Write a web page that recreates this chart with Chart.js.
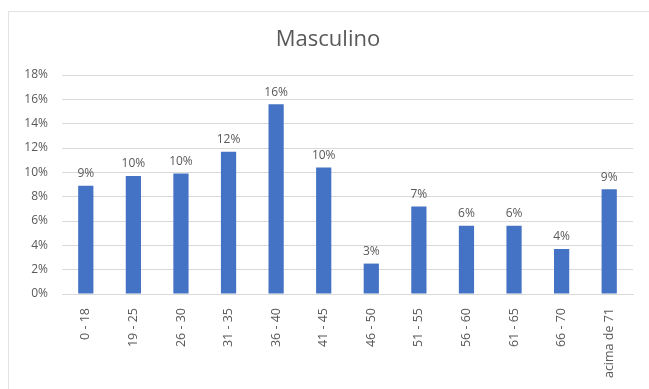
<!DOCTYPE html>
<html>
<head>
<meta charset="utf-8">
<script src="https://cdn.jsdelivr.net/npm/chart.js@4"></script>
<style>
    html, body { margin: 0; padding: 0; background: #fff; }
    #wrap { position: relative; width: 649px; height: 389px; overflow: hidden; }
    #frame { position: absolute; left: 8px; top: 11px; width: 700px; height: 450px; border: 1px solid #e3e3e3; }
    #myChart { position: absolute; left: 0; top: 0; }
</style>
</head>
<body>
<div id="wrap">
    <div id="frame"></div>
    <canvas id="myChart" width="649" height="389"></canvas>
</div>
<script>
    let categories = ["0 - 18", "19 - 25", "26 - 30", "31 - 35", "36 - 40", "41 - 45",
        "46 - 50", "51 - 55", "56 - 60", "61 - 65", "66 - 70", "acima de 71"];
    let masculino = [8.9, 9.7, 9.9, 11.7, 15.6, 10.4, 2.5, 7.2, 5.6, 5.6, 3.7, 8.6];
    let yTicks = [0, 2, 4, 6, 8, 10, 12, 14, 16, 18];
    let chartTitle = 'Masculino';

    let textColor = '#595959';
    let fontFamily = "'Open Sans', 'Liberation Sans', sans-serif";

    // title centred on the frame, not on the canvas minus padding
    let frameTitle = {
        id: 'frameTitle',
        afterDraw(chart) {
            let ctx = chart.ctx;
            ctx.save();
            ctx.fillStyle = textColor;
            ctx.font = '22px ' + fontFamily;
            ctx.textAlign = 'center';
            ctx.textBaseline = 'middle';
            ctx.fillText(chartTitle, 328, 40);
            ctx.restore();
        }
    };

    // draws the % value above each bar
    let valueLabels = {
        id: 'valueLabels',
        afterDatasetsDraw(chart) {
            let ctx = chart.ctx;
            let meta = chart.getDatasetMeta(0);
            ctx.save();
            ctx.fillStyle = textColor;
            ctx.font = '12px ' + fontFamily;
            ctx.textAlign = 'center';
            ctx.textBaseline = 'bottom';
            meta.data.forEach((bar, i) => {
                let value = chart.data.datasets[0].data[i];
                ctx.fillText(Math.round(value) + '%', bar.x, bar.y - 6);
            });
            ctx.restore();
        }
    };

    new Chart(document.getElementById('myChart'), {
        type: 'bar',
        data: {
            labels: categories,
            datasets: [{
                label: chartTitle,
                data: masculino,
                backgroundColor: '#4472C4',
                categoryPercentage: 1,
                barPercentage: 0.32
            }]
        },
        options: {
            responsive: false,
            animation: false,
            layout: { padding: { left: 0, right: 16, top: 75, bottom: 0 } },
            plugins: {
                legend: { display: false },
                tooltip: { enabled: false },
                title: { display: false }
            },
            scales: {
                x: {
                    grid: { display: false },
                    border: { color: '#d9d9d9' },
                    ticks: {
                        color: textColor,
                        font: { family: fontFamily, size: 12.5 },
                        minRotation: 90,
                        maxRotation: 90,
                        autoSkip: false,
                        padding: 6
                    },
                    afterFit(scale) { scale.height = 95; }
                },
                y: {
                    min: 0,
                    max: 18,
                    afterBuildTicks(scale) { scale.ticks = yTicks.map(v => ({ value: v })); },
                    grid: { color: '#d9d9d9', drawTicks: false },
                    border: { display: false },
                    ticks: {
                        color: textColor,
                        font: { family: fontFamily, size: 12 },
                        padding: 14,
                        callback: v => v + '%'
                    },
                    afterFit(scale) { scale.width = 62; }
                }
            }
        },
        plugins: [valueLabels, frameTitle]
    });
</script>
</body>
</html>
